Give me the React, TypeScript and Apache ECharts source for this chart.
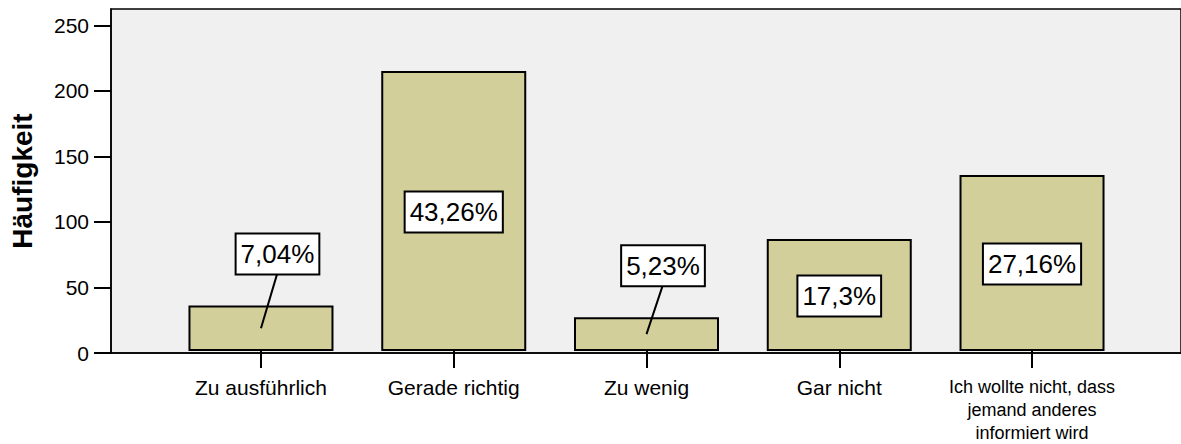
import React, { useEffect, useRef } from "react";
import * as echarts from "echarts";

const categories = [
  "Zu ausführlich",
  "Gerade richtig",
  "Zu wenig",
  "Gar nicht",
  "Ich wollte nicht, dass\njemand anderes\ninformiert wird",
];
const counts = [35, 215, 26, 86, 135];
const percentLabels = ["7,04%", "43,26%", "5,23%", "17,3%", "27,16%"];
const yTicks = [0, 50, 100, 150, 200, 250];
const yMax = 262.5;
const yTitle = "Häufigkeit";

const FONT = "'Liberation Sans', Arial, Helvetica, sans-serif";

export default function App() {
  const ref = useRef<HTMLDivElement>(null);

  useEffect(() => {
    if (!ref.current) return;
    const chart = echarts.init(ref.current, undefined, { renderer: "svg" });

    const renderItem = (params: any, api: any) => {
      const i = api.value(0);
      const v = api.value(1);
      const top = api.coord([i, v]);
      const base = api.coord([i, 0]);
      const cx = top[0];
      const h = base[1] - top[1];
      const midY = (top[1] + base[1]) / 2;
      const style = {
        text: percentLabels[params.dataIndex],
        fill: "#000",
        fontFamily: FONT,
        fontSize: 26,
        align: "center",
        verticalAlign: "middle",
        backgroundColor: "#fff",
        borderColor: "#000",
        borderWidth: 2,
        padding: [5, 4, 4, 4],
        lineHeight: 30,
      };
      if (h > 60) {
        return { type: "text", x: cx, y: midY + 1, style };
      }
      const boxBottom = top[1] - 31;
      const boxCy = boxBottom - 20.5;
      return {
        type: "group",
        children: [
          {
            type: "line",
            shape: { x1: cx + 16, y1: boxBottom, x2: cx, y2: midY },
            style: { stroke: "#000", lineWidth: 2 },
          },
          { type: "text", x: cx + 16.5, y: boxCy, style },
        ],
      };
    };

    const option: any = {
      animation: false,
      textStyle: { fontFamily: FONT },
      grid: [
        {
          left: 111,
          top: 9,
          right: -5,
          bottom: 91,
          show: true,
          backgroundColor: "#f0f0f0",
          borderColor: "#000",
          borderWidth: 1.5,
        },
        { left: 164.6, top: 9, right: 52.6, bottom: 91 },
      ],
      xAxis: [
        {
          gridIndex: 0,
          type: "value",
          min: 0,
          max: 1,
          axisLine: { show: true, lineStyle: { color: "#000", width: 1.5 } },
          axisTick: { show: false },
          axisLabel: { show: false },
          splitLine: { show: false },
        },
        {
          gridIndex: 1,
          type: "category",
          data: categories,
          axisLine: { show: false },
          axisTick: {
            show: true,
            alignWithLabel: true,
            length: 17,
            lineStyle: { color: "#000", width: 2 },
          },
          axisLabel: {
            interval: 0,
            margin: 24,
            color: "#000",
            fontFamily: FONT,
            fontSize: 21,
            lineHeight: 24,
            formatter: (v: string) =>
              v.includes("\n")
                ? v
                    .split("\n")
                    .map((l) => `{s|${l}}`)
                    .join("\n")
                : v,
            rich: {
              s: { fontSize: 18, lineHeight: 23, fontFamily: FONT, color: "#000" },
            },
          },
          splitLine: { show: false },
        },
      ],
      yAxis: [
        {
          gridIndex: 0,
          type: "value",
          min: 0,
          max: yMax,
          name: yTitle,
          nameLocation: "middle",
          nameGap: 75,
          nameRotate: 90,
          nameTextStyle: {
            fontFamily: FONT,
            fontSize: 28,
            fontWeight: "bold",
            color: "#000",
          },
          axisLine: { show: true, lineStyle: { color: "#000", width: 1.5 } },
          axisTick: {
            show: true,
            length: 17,
            customValues: yTicks,
            lineStyle: { color: "#000", width: 2 },
          },
          axisLabel: {
            customValues: yTicks,
            margin: 22,
            fontFamily: FONT,
            fontSize: 21,
            color: "#000",
          },
          splitLine: { show: false },
        },
        { gridIndex: 1, type: "value", min: 0, max: yMax, show: false },
      ],
      series: [
        {
          type: "bar",
          xAxisIndex: 1,
          yAxisIndex: 1,
          data: counts,
          barWidth: 145,
          itemStyle: { color: "#d3cf9b", borderColor: "#000", borderWidth: 2 },
          z: 2,
          silent: true,
        },
        {
          type: "custom",
          xAxisIndex: 1,
          yAxisIndex: 1,
          data: counts.map((v, i) => [i, v]),
          renderItem,
          z: 5,
          silent: true,
        },
      ],
    };

    chart.setOption(option);
    return () => chart.dispose();
  }, []);

  return (
    <div
      ref={ref}
      style={{ position: "absolute", left: 0, top: 0, width: 1181, height: 444 }}
    />
  );
}
